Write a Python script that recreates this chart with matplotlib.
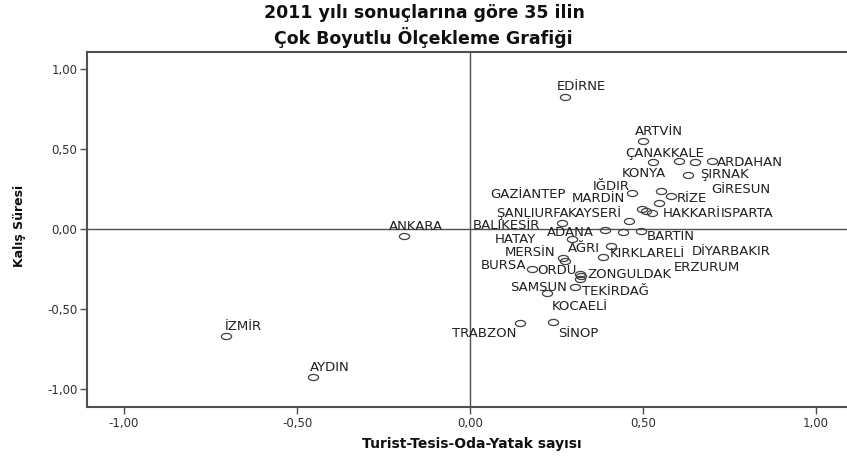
import matplotlib
matplotlib.use("Agg")
import matplotlib.pyplot as plt
import numpy as np
from matplotlib.path import Path
from matplotlib.ticker import FixedLocator, FixedFormatter

# ---------------- data ----------------
cities = ["EDİRNE", "ARTVİN", "ÇANAKKALE", "ARDAHAN", "KONYA", "ŞIRNAK", "GİRESUN",
          "MARDİN", "IĞDIR", "GAZİANTEP", "RİZE", "ŞANLIURFA", "KAYSERİ", "HAKKARİ",
          "ISPARTA", "BALIKESİR", "ADANA", "BARTIN", "DİYARBAKIR", "HATAY", "AĞRI",
          "KIRKLARELİ", "MERSİN", "BURSA", "ORDU", "ZONGULDAK", "TEKİRDAĞ", "SAMSUN",
          "KOCAELİ", "ERZURUM", "TRABZON", "SİNOP", "ANKARA", "İZMİR", "AYDIN"]
dim1 = [0.275, 0.500, 0.604, 0.699, 0.529, 0.630, 0.650,
        0.468, 0.552, 0.546, 0.581, 0.460, 0.497, 0.526,
        0.509, 0.266, 0.390, 0.494, 0.442, 0.295, 0.408,
        0.384, 0.269, 0.275, 0.179, 0.318, 0.318, 0.303,
        0.223, 0.321, 0.145, 0.240, -0.191, -0.705, -0.454]
dim2 = [0.825, 0.550, 0.425, 0.425, 0.419, 0.338, 0.419,
        0.225, 0.238, 0.163, 0.206, 0.050, 0.125, 0.100,
        0.113, 0.038, -0.006, -0.013, -0.019, -0.063, -0.106,
        -0.175, -0.181, -0.200, -0.250, -0.281, -0.313, -0.363,
        -0.400, -0.294, -0.588, -0.581, -0.044, -0.669, -0.925]
tick_values = [-1.0, -0.5, 0.0, 0.5, 1.0]
tick_labels = ["-1,00", "-0,50", "0,00", "0,50", "1,00"]

title_lines = ["2011 yılı sonuçlarına göre 35 ilin", "Çok Boyutlu Ölçekleme Grafiği"]
x_title = "Turist-Tesis-Oda-Yatak sayısı"
y_title = "Kalış Süresi"

# label placement (pixel offsets of label left / cap-middle from the point)
label_offsets = [(-8, 12), (-8, 11), (-54, 9), (5, 0), (-31, -10), (12, 2), (16, -26),
                 (-60, -4), (-68, 6), (-169, 10), (6, -1), (-133, 9), (-74, -3), (11, 1),
                 (75, -1), (-89, -1), (-58, -1.5), (6, -4), (69, -18), (-77, 1), (-43, -1),
                 (7, 5), (-58, 7), (-84, -3), (5, 0), (7, 1), (2, -11), (-65, 1),
                 (5, -12), (93, 10), (-68, -9), (5, -10), (-15, 11), (-1, 11), (-3, 11)]

# ---------------- figure ----------------
plt.rcParams["font.family"] = ["DejaVu Sans"]
W, H = 847, 457
fig = plt.figure(figsize=(W / 100, H / 100), dpi=100)
ax_left, ax_right, ax_top, ax_bottom = 87, 870, 52, 407
ax = fig.add_axes([ax_left / W, (H - ax_bottom) / H,
                   (ax_right - ax_left) / W, (ax_bottom - ax_top) / H])

x0_px, xs = 470, 346.0
y0_px, ys = 229, 160.0
ax.set_xlim((ax_left - x0_px) / xs, (ax_right - x0_px) / xs)
ax.set_ylim((y0_px - ax_bottom) / ys, (y0_px - ax_top) / ys)

# reference lines
ax.axhline(0, color="#505050", lw=1.0, zorder=1)
ax.axvline(0, color="#505050", lw=1.0, zorder=1)

# elliptical open-circle marker
t = np.linspace(0, 2 * np.pi, 64)
ell = Path(np.column_stack([np.cos(t), 0.6 * np.sin(t)]), closed=True)
ax.plot(dim1, dim2, linestyle="none", marker=ell, markersize=7.3,
        markerfacecolor="none", markeredgecolor="#404040", markeredgewidth=0.9,
        zorder=3)

cap_half = 4.8
for name, x, y, (dx, dy) in zip(cities, dim1, dim2, label_offsets):
    ax.annotate(name, xy=(x, y), xytext=(dx, dy - cap_half),
                textcoords="offset pixels", ha="left", va="baseline",
                fontsize=9.5, color="#202020", zorder=4)

# axes styling
for side in ["left", "bottom", "top"]:
    ax.spines[side].set_color("#505050")
    ax.spines[side].set_linewidth(1.5)
ax.spines["right"].set_visible(False)
ax.xaxis.set_major_locator(FixedLocator(tick_values))
ax.xaxis.set_major_formatter(FixedFormatter(tick_labels))
ax.yaxis.set_major_locator(FixedLocator(tick_values))
ax.yaxis.set_major_formatter(FixedFormatter(tick_labels))
ax.tick_params(axis="both", direction="out", length=5, width=1.0, color="#505050",
               labelsize=8.5, labelcolor="#303030", pad=2)

# titles
fig.text(424 / W, 1 - 18 / H, title_lines[0], ha="center", va="baseline",
         fontsize=12.5, fontweight="bold", color="#101010")
fig.text(423 / W, 1 - 43.5 / H, title_lines[1], ha="center", va="baseline",
         fontsize=12.5, fontweight="bold", color="#101010")
fig.text(472 / W, 1 - 448 / H, x_title, ha="center", va="baseline",
         fontsize=10, fontweight="bold", color="#101010")
fig.text(20 / W, 1 - 226 / H, y_title, ha="center", va="center", rotation=90,
         fontsize=9, fontweight="bold", color="#101010")

fig.savefig("out.png", dpi=100, facecolor="white")
